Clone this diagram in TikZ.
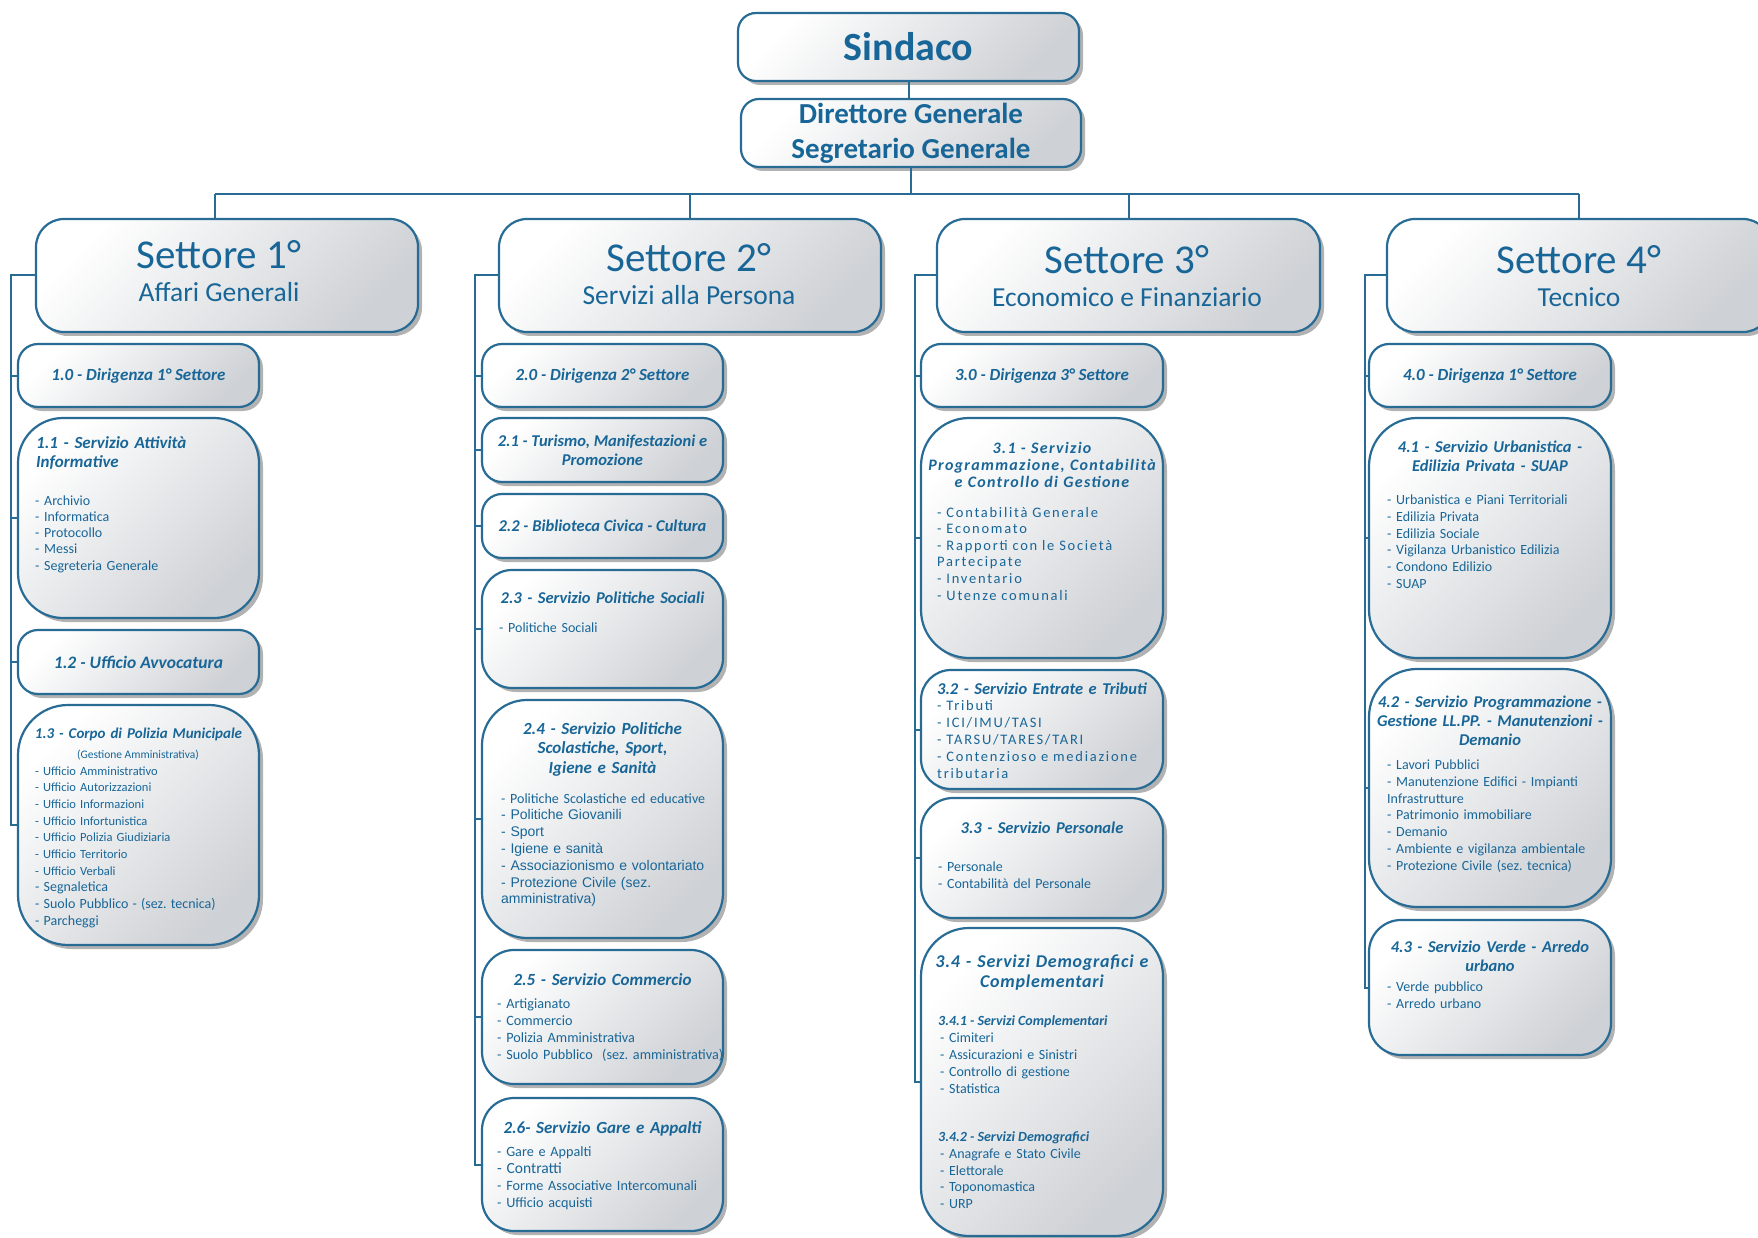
\documentclass[tikz,border=0pt]{standalone}
\usepackage{fontspec}
\setmainfont{Carlito}
\newfontfamily\arialf{Liberation Sans}
\newfontfamily\widef[LetterSpace=12]{Carlito}
\newfontfamily\widet[LetterSpace=8]{Carlito}
\newfontfamily\widem[LetterSpace=4]{Carlito}
\usetikzlibrary{shadows}
\definecolor{bord}{RGB}{40,108,150}
\definecolor{tblue}{RGB}{24,102,152}
\definecolor{boxlo}{RGB}{206,209,213}
\frenchspacing
\hyphenpenalty=10000
\exhyphenpenalty=10000
\begin{document}
\begin{tikzpicture}[x=1pt,y=-1pt,
 box/.style={draw=bord, line width=2.2pt, top color=white, bottom color=boxlo, shading angle=45,
   drop shadow={shadow xshift=4pt, shadow yshift=-4pt, opacity=.3, fill=black},
   inner sep=0pt, text=tblue, align=center},
 conn/.style={draw=bord, line width=2pt},
 txt/.style={text=tblue, inner sep=0pt},
 ttl/.style={txt, font=\fontsize{17}{19}\selectfont\bfseries\itshape, align=center, text width=250pt},
 lst/.style={txt, font=\fontsize{14}{16.6}\selectfont, align=left, text width=250pt},
 sub/.style={font=\fontsize{17}{19}\selectfont\bfseries\itshape}
 ]
\useasboundingbox (0,0) rectangle (1758,1238);
\clip (0,0) rectangle (1758,1238);
\fill[white] (0,0) rectangle (1758,1238);

% top
\node[box, rounded corners=18pt, minimum width=341pt, minimum height=68pt, font=\fontsize{40}{44}\selectfont\bfseries] (sind) at (908.5,47) {Sindaco};
\node[box, rounded corners=18pt, minimum width=340pt, minimum height=68pt, font=\fontsize{29}{35}\selectfont\bfseries] (dg) at (911,133) {Direttore Generale\\Segretario Generale};

% headers
\node[box, rounded corners=28pt, minimum width=382pt, minimum height=113pt] (s1) at (227,275.5) {};
\node[box, rounded corners=28pt, minimum width=382pt, minimum height=113pt] (s2) at (690,275.5) {};
\node[box, rounded corners=28pt, minimum width=383pt, minimum height=113pt] (s3) at (1128.5,275.5) {};
\node[box, rounded corners=28pt, minimum width=384pt, minimum height=113pt] (s4) at (1579,275.5) {};
\node[txt, anchor=base, font=\fontsize{41}{44}\selectfont] (h1a) at (219,269) {Settore 1°};
\node[txt, anchor=base, font=\fontsize{27.5}{30}\selectfont] (h1b) at (219,302) {Affari Generali};
\node[txt, anchor=base, font=\fontsize{41}{44}\selectfont] (h2a) at (689,272) {Settore 2°};
\node[txt, anchor=base, font=\fontsize{27.5}{30}\selectfont] (h2b) at (689,305) {Servizi alla Persona};
\node[txt, anchor=base, font=\fontsize{41}{44}\selectfont] (h3a) at (1127,274) {Settore 3°};
\node[txt, anchor=base, font=\fontsize{27.5}{30}\selectfont] (h3b) at (1127,307) {Economico e Finanziario};
\node[txt, anchor=base, font=\fontsize{41}{44}\selectfont] (h4a) at (1579,274) {Settore 4°};
\node[txt, anchor=base, font=\fontsize{27.5}{30}\selectfont] (h4b) at (1579,307) {Tecnico};

% column 1
\node[box, rounded corners=20pt, minimum width=241pt, minimum height=63pt, sub] (c10) at (138.5,375.5) {1.0 - Dirigenza 1° Settore};
\node[box, rounded corners=45pt, minimum width=241pt, minimum height=200pt] (c11) at (138.5,518) {};
\node[box, rounded corners=20pt, minimum width=241pt, minimum height=64pt, font=\fontsize{17.5}{19}\selectfont\bfseries\itshape] (c12) at (138.5,662) {1.2 - Ufficio Avvocatura};
\node[box, rounded corners=50pt, minimum width=241pt, minimum height=240pt] (c13) at (138.5,825) {};

\node[ttl, anchor=base west, align=left, text width=215pt] (t11) at (36,448) {1.1 - Servizio Attività\\Informative};
\node[lst, anchor=base west, font=\fontsize{14}{16.3}\selectfont] (l11) at (35,505) {- Archivio\\- Informatica\\- Protocollo\\- Messi\\- Segreteria Generale};
\node[ttl, anchor=base, font=\fontsize{15}{18}\selectfont\bfseries\itshape] (t13) at (138.5,738) {1.3 - Corpo di Polizia Municipale};
\node[txt, anchor=base, font=\fontsize{11.5}{13}\selectfont] (g13) at (138,758) {(Gestione Amministrativa)};
\node[lst, anchor=base west, font=\fontsize{12.5}{16.67}\selectfont] (l13) at (35,775) {- Ufficio Amministrativo\\- Ufficio Autorizzazioni\\- Ufficio Informazioni\\- Ufficio Infortunistica\\- Ufficio Polizia Giudiziaria\\- Ufficio Territorio\\- Ufficio Verbali\\{\fontsize{14}{16.67}\selectfont - Segnaletica}\\{\fontsize{14}{16.67}\selectfont - Suolo Pubblico - (sez. tecnica)}\\{\fontsize{14}{16.67}\selectfont - Parcheggi}};

% column 2
\node[box, rounded corners=20pt, minimum width=241pt, minimum height=63pt, sub] (c20) at (602.5,375.5) {2.0 - Dirigenza 2° Settore};
\node[box, rounded corners=20pt, minimum width=241pt, minimum height=64pt, font=\fontsize{16.5}{19}\selectfont\bfseries\itshape] (c21) at (602.5,450) {2.1 - Turismo, Manifestazioni e\\Promozione};
\node[box, rounded corners=20pt, minimum width=241pt, minimum height=64pt, font=\fontsize{16.5}{19}\selectfont\bfseries\itshape] (c22) at (602.5,526) {2.2 - Biblioteca Civica - Cultura};
\node[box, rounded corners=30pt, minimum width=241pt, minimum height=118pt] (c23) at (602.5,629) {};
\node[box, rounded corners=45pt, minimum width=241pt, minimum height=238pt] (c24) at (602.5,819) {};
\node[box, rounded corners=32pt, minimum width=241pt, minimum height=134pt] (c25) at (602.5,1017) {};
\node[box, rounded corners=32pt, minimum width=241pt, minimum height=133pt] (c26) at (602.5,1164.5) {};

\node[ttl, anchor=base, font=\fontsize{16.5}{19}\selectfont\bfseries\itshape] (t23) at (602.5,603) {2.3 - Servizio Politiche Sociali};
\node[lst, anchor=base west] (l23) at (499,632.5) {- Politiche Sociali};
\node[ttl, anchor=base, font=\fontsize{17}{19.5}\selectfont\bfseries\itshape] (t24) at (602.5,734) {2.4 - Servizio Politiche\\Scolastiche, Sport,\\Igiene e Sanità};
\node[lst, anchor=base west, font=\fontsize{14}{16.8}\selectfont] (l24) at (501,803) {- Politiche Scolastiche ed educative\\{\arialf - Politiche Giovanili}\\{\arialf - Sport}\\{\arialf - Igiene e sanità}\\{\arialf - Associazionismo e volontariato}\\{\arialf - Protezione Civile (sez.}\\{\arialf amministrativa)}};
\node[ttl, anchor=base] (t25) at (602.5,985) {2.5 - Servizio Commercio};
\node[lst, anchor=base west, font=\fontsize{14.2}{17}\selectfont] (l25) at (497,1008) {- Artigianato\\- Commercio\\- Polizia Amministrativa\\- Suolo Pubblico\ \ (sez. amministrativa)};
\node[ttl, anchor=base] (t26) at (602.5,1133) {2.6- Servizio Gare e Appalti};
\node[lst, anchor=base west, font=\fontsize{14.2}{17}\selectfont] (l26) at (497,1156) {- Gare e Appalti\\{\fontsize{15.5}{17}\selectfont - Contratti}\\- Forme Associative Intercomunali\\- Ufficio acquisti};

% column 3
\node[box, rounded corners=20pt, minimum width=242pt, minimum height=63pt, sub] (c30) at (1042,375.5) {3.0 - Dirigenza 3° Settore};
\node[box, rounded corners=48pt, minimum width=242pt, minimum height=240pt] (c31) at (1042,538) {};
\node[box, rounded corners=30pt, minimum width=242pt, minimum height=119pt] (c32) at (1042,729.5) {};
\node[box, rounded corners=32pt, minimum width=242pt, minimum height=120pt] (c33) at (1042,858) {};
\node[box, rounded corners=48pt, minimum width=242pt, minimum height=308pt] (c34) at (1042,1082) {};

\node[ttl, anchor=base, font=\fontsize{16}{17}\selectfont\widet\bfseries\itshape] (t31) at (1042,453) {3.1 - Servizio\\Programmazione, Contabilità\\e Controllo di Gestione};
\node[lst, anchor=base west, font=\fontsize{14.5}{16.6}\selectfont\widef] (l31) at (937,517) {- Contabilità Generale\\- Economato\\- Rapporti con le Società\\Partecipate\\- Inventario\\- Utenze comunali};
\node[ttl, anchor=base, font=\fontsize{16.5}{19}\selectfont\bfseries\itshape] (t32) at (1042,694) {3.2 - Servizio Entrate e Tributi};
\node[lst, anchor=base west, font=\fontsize{14.5}{17}\selectfont\widef] (l32) at (937,710) {- Tributi\\- ICI/IMU/TASI\\- TARSU/TARES/TARI\\- Contenzioso e mediazione\\tributaria};
\node[ttl, anchor=base, font=\fontsize{16.5}{19}\selectfont\bfseries\itshape] (t33) at (1042,833) {3.3 - Servizio Personale};
\node[lst, anchor=base west, font=\fontsize{14}{16.5}\selectfont] (l33) at (938,871.5) {- Personale\\- Contabilità del Personale};
\node[ttl, anchor=base, font=\fontsize{18}{20}\selectfont\widem\bfseries\itshape] (t34) at (1042,967) {3.4 - Servizi Demografici e\\Complementari};
\node[txt, anchor=base west, font=\fontsize{14}{17}\selectfont\bfseries\itshape] (t341) at (938,1025.5) {3.4.1 - Servizi Complementari};
\node[lst, anchor=base west, font=\fontsize{14}{17}\selectfont] (l341) at (940,1042.5) {- Cimiteri\\- Assicurazioni e Sinistri\\- Controllo di gestione\\- Statistica};
\node[txt, anchor=base west, font=\fontsize{14}{17}\selectfont\bfseries\itshape] (t342) at (938,1141.5) {3.4.2 - Servizi Demografici};
\node[lst, anchor=base west, font=\fontsize{14}{16.7}\selectfont] (l342) at (940,1158.5) {- Anagrafe e Stato Civile\\- Elettorale\\- Toponomastica\\- URP};

% column 4
\node[box, rounded corners=20pt, minimum width=242pt, minimum height=63pt, sub] (c40) at (1490,375.5) {4.0 - Dirigenza 1° Settore};
\node[box, rounded corners=48pt, minimum width=242pt, minimum height=240pt] (c41) at (1490,538) {};
\node[box, rounded corners=48pt, minimum width=242pt, minimum height=238pt] (c42) at (1490,788) {};
\node[box, rounded corners=32pt, minimum width=242pt, minimum height=135pt] (c43) at (1490,987.5) {};

\node[ttl, anchor=base, font=\fontsize{16.5}{19}\selectfont\bfseries\itshape] (t41) at (1490,452) {4.1 - Servizio Urbanistica -\\Edilizia Privata - SUAP};
\node[lst, anchor=base west, font=\fontsize{14}{16.8}\selectfont] (l41) at (1387,504.5) {- Urbanistica e Piani Territoriali\\- Edilizia Privata\\- Edilizia Sociale\\- Vigilanza Urbanistico Edilizia\\- Condono Edilizio\\- SUAP};
\node[ttl, anchor=base, font=\fontsize{16.5}{19}\selectfont\bfseries\itshape] (t42) at (1490,707) {4.2 - Servizio Programmazione -\\Gestione LL.PP. - Manutenzioni -\\Demanio};
\node[lst, anchor=base west, font=\fontsize{14}{16.8}\selectfont] (l42) at (1387,769.5) {- Lavori Pubblici\\- Manutenzione Edifici - Impianti\\Infrastrutture\\- Patrimonio immobiliare\\- Demanio\\- Ambiente e vigilanza ambientale\\- Protezione Civile (sez. tecnica)};
\node[ttl, anchor=base, font=\fontsize{16.5}{19}\selectfont\bfseries\itshape] (t43) at (1490,952) {4.3 - Servizio Verde - Arredo\\urbano};
\node[lst, anchor=base west, font=\fontsize{14}{16.5}\selectfont] (l43) at (1387,991.5) {- Verde pubblico\\- Arredo urbano};

% connectors
\coordinate (busL) at (215,194);
\coordinate (busR) at (1579,194);
\coordinate (v1) at (11,0);
\coordinate (v2) at (475,0);
\coordinate (v3) at (915,0);
\coordinate (v4) at (1365,0);
\draw[conn] (sind.south) -- (sind.south |- dg.north);
\draw[conn] (dg.south) -- (dg.south |- busL);
\draw[conn] (busL) -- (busR);
\draw[conn] (busL) -- (busL |- s1.north);
\draw[conn] (s2.north |- busL) -- (s2.north);
\draw[conn] (s3.north |- busL) -- (s3.north);
\draw[conn] (busR) -- (s4.north);

\draw[conn] (s1.west) -- (s1.west -| v1) |- (c13.west);
\foreach \c in {c10,c11,c12} \draw[conn] (\c.west -| v1) -- (\c.west);
\draw[conn] (s2.west) -- (s2.west -| v2) |- (c26.west);
\foreach \c in {c20,c21,c22,c23,c24,c25} \draw[conn] (\c.west -| v2) -- (\c.west);
\draw[conn] (s3.west) -- (s3.west -| v3) |- (c34.west);
\foreach \c in {c30,c31,c32,c33} \draw[conn] (\c.west -| v3) -- (\c.west);
\draw[conn] (s4.west) -- (s4.west -| v4) |- (c43.west);
\foreach \c in {c40,c41,c42} \draw[conn] (\c.west -| v4) -- (\c.west);
\end{tikzpicture}
\end{document}
